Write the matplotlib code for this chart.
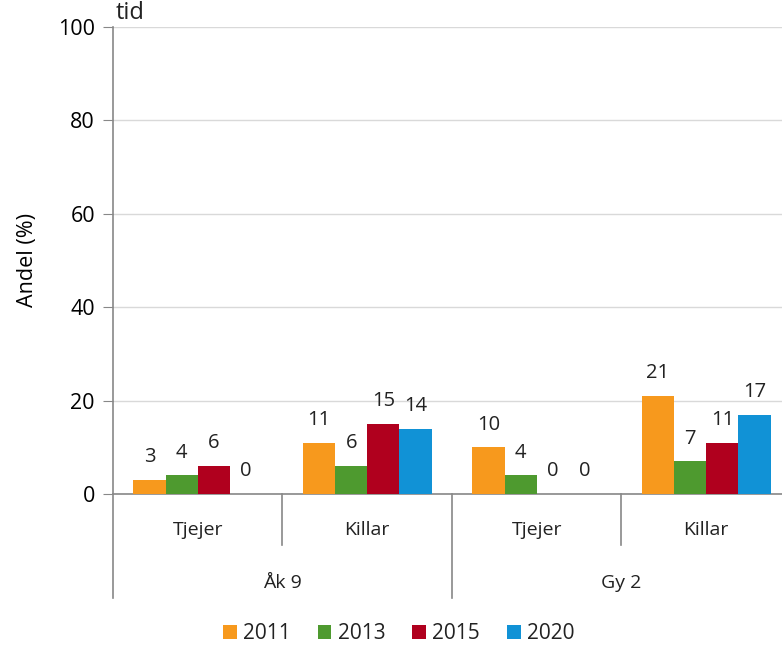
import numpy as np
import matplotlib
matplotlib.use('Agg')
import matplotlib.pyplot as plt
import matplotlib.transforms as mtransforms

# Data
subgroups = ['Tjejer', 'Killar', 'Tjejer', 'Killar']
groups = ['Åk 9', 'Gy 2']
years = ['2011', '2013', '2015', '2020']
v2011 = [3, 11, 10, 21]
v2013 = [4, 6, 4, 7]
v2015 = [6, 15, 0, 11]
v2020 = [0, 14, 0, 17]
series = [v2011, v2013, v2015, v2020]
colors = ['#F7991D', '#4E9A2F', '#B0001E', '#1192D6']

plt.rcParams['font.family'] = 'Open Sans'
plt.rcParams['text.color'] = '#222222'

fig = plt.figure(figsize=(7.82, 6.46), dpi=100)
ax = fig.add_axes([0.1445, 0.2353, 0.867, 0.7229])

x = np.arange(len(subgroups))
w = 0.19
for i, (vals, c, yr) in enumerate(zip(series, colors, years)):
    pos = x + (i - 1.5) * w
    ax.bar(pos, vals, width=w, color=c, label=yr, zorder=3)
    for px, v in zip(pos, vals):
        ax.annotate(str(v), (px, v), xytext=(0, 9), textcoords='offset points',
                    ha='center', va='bottom', fontsize=14.5)

ax.set_xlim(-0.5, 3.5)
ax.set_ylim(0, 100)
ax.set_yticks(range(0, 101, 20))
ax.tick_params(axis='y', labelsize=15.5, color='#888888', length=7, pad=6)
ax.set_xticks([])
ax.grid(axis='y', color='#d9d9d9', linewidth=1, zorder=0)
for s in ['top', 'right']:
    ax.spines[s].set_visible(False)
for s in ['left', 'bottom']:
    ax.spines[s].set_color('#888888')
    ax.spines[s].set_linewidth(1.2)
ax.set_ylabel('Andel (%)', fontsize=15.5, labelpad=14)

# category axis (two levels)
trans = mtransforms.blended_transform_factory(ax.transData, ax.transAxes)
for b in [-0.5, 1.5, 3.5]:
    ax.plot([b, b], [0, -0.223], transform=trans, color='#888888', lw=1.2, clip_on=False)
for b in [0.5, 2.5]:
    ax.plot([b, b], [0, -0.109], transform=trans, color='#888888', lw=1.2, clip_on=False)
for xi, name in zip(x, subgroups):
    ax.text(xi, -0.077, name, transform=trans, ha='center', va='center', fontsize=14)
for gi, name in enumerate(groups):
    ax.text(2 * gi + 0.5, -0.19, name, transform=trans, ha='center', va='center', fontsize=14)

fig.text(0.148, 0.971, 'tid', fontsize=17, va='baseline')

fig.legend(loc='center', bbox_to_anchor=(0.51, 0.019), ncol=4, frameon=False,
           fontsize=15, handlelength=0.65, handleheight=0.65, handletextpad=0.3,
           columnspacing=1.3)

fig.savefig('out.png', dpi=100)
